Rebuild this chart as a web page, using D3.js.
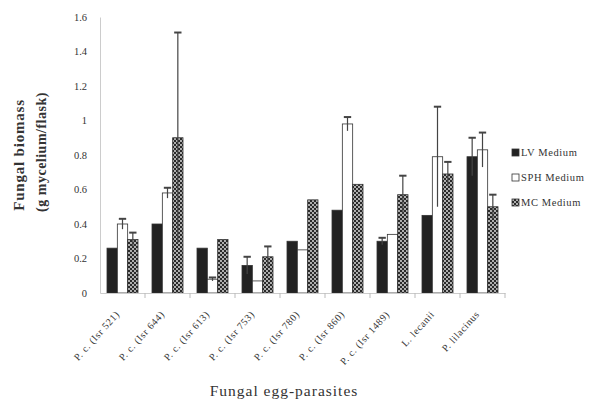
<!DOCTYPE html>
<html>
<head>
  <script src="https://cdn.jsdelivr.net/npm/d3@7"></script>
  <style>
    body { margin: 0; background: #fff; }
    text { font-family: "Liberation Serif", "DejaVu Serif", serif; fill: #333; }
  </style>
</head>
<body>
  <svg width="599" height="406" id="mainsvg"></svg>
  <script>
    const parasites = ['P. c. (Isr 521)', 'P. c. (Isr 644)', 'P. c. (Isr 613)', 'P. c. (Isr 753)',
      'P. c. (Isr 780)', 'P. c. (Isr 860)', 'P. c. (Isr 1489)', 'L. lecanii', 'P. lilacinus'];
    const media = ['LV Medium', 'SPH Medium', 'MC Medium'];
    const lvValues = [0.26, 0.40, 0.26, 0.16, 0.30, 0.48, 0.30, 0.45, 0.79];
    const sphValues = [0.40, 0.58, 0.08, 0.07, 0.25, 0.98, 0.34, 0.79, 0.83];
    const mcValues = [0.31, 0.90, 0.31, 0.21, 0.54, 0.63, 0.57, 0.69, 0.50];
    const lvErrors = [0, 0, 0, 0.05, 0, 0, 0.02, 0, 0.11];
    const sphErrors = [0.03, 0.03, 0.01, 0, 0, 0.04, 0, 0.29, 0.10];
    const mcErrors = [0.04, 0.61, 0, 0.06, 0, 0, 0.11, 0.07, 0.07];
    const yTicks = [0, 0.2, 0.4, 0.6, 0.8, 1, 1.2, 1.4, 1.6];

    const svg = d3.select('svg');
    const margin = {top: 17, left: 100, right: 94, bottom: 113};
    const width = +svg.attr('width');
    const height = +svg.attr('height');

    const x = d3.scaleBand().domain(parasites).range([margin.left, width - margin.right]);
    const xs = d3.scaleBand().domain(media).range([7, 38]);
    const y = d3.scaleLinear().domain([0, 1.6]).range([height - margin.bottom, margin.top]);

    // pattern for MC bars
    const defs = svg.append('defs');
    const pat = defs.append('pattern').attr('id', 'dots')
      .attr('width', 4).attr('height', 4).attr('patternUnits', 'userSpaceOnUse');
    pat.append('rect').attr('width', 4).attr('height', 4).attr('fill', '#2a2a2a');
    pat.append('circle').attr('cx', 1).attr('cy', 1).attr('r', 0.9).attr('fill', '#eee');
    pat.append('circle').attr('cx', 3).attr('cy', 3).attr('r', 0.9).attr('fill', '#eee');

    const fills = {'LV Medium': '#222', 'SPH Medium': '#fff', 'MC Medium': 'url(#dots)'};

    const rows = [];
    parasites.forEach((p, i) => {
      rows.push({p, m: media[0], v: lvValues[i], e: lvErrors[i]});
      rows.push({p, m: media[1], v: sphValues[i], e: sphErrors[i]});
      rows.push({p, m: media[2], v: mcValues[i], e: mcErrors[i]});
    });

    // y axis
    const yAxis = svg.append('g').attr('transform', `translate(${margin.left},0)`)
      .call(d3.axisLeft(y).tickValues(yTicks).tickSize(0).tickPadding(13)
        .tickFormat(d => d === 0 ? '0' : d3.format('.1~f')(d)));
    yAxis.select('.domain').attr('stroke', '#ccc');
    yAxis.selectAll('text').attr('font-size', 10.5).attr('fill', '#666')
      .style('font-family', '"Liberation Serif", serif');

    // bars
    svg.append('g').selectAll('rect').data(rows).join('rect')
      .attr('x', d => x(d.p) + xs(d.m))
      .attr('y', d => y(d.v))
      .attr('width', xs.bandwidth())
      .attr('height', d => y(0) - y(d.v))
      .attr('fill', d => fills[d.m])
      .attr('stroke', '#333').attr('stroke-width', 0.8);

    // error bars
    const eb = svg.append('g').selectAll('g').data(rows.filter(d => d.e > 0)).join('g')
      .attr('stroke', '#444').attr('stroke-width', 1.2);
    eb.append('line')
      .attr('x1', d => x(d.p) + xs(d.m) + xs.bandwidth() / 2)
      .attr('x2', d => x(d.p) + xs(d.m) + xs.bandwidth() / 2)
      .attr('y1', d => y(Math.max(0, d.v - d.e)))
      .attr('y2', d => y(d.v + d.e));
    eb.append('line')
      .attr('x1', d => x(d.p) + xs(d.m) + 1.5)
      .attr('x2', d => x(d.p) + xs(d.m) + xs.bandwidth() - 1.5)
      .attr('y1', d => y(d.v + d.e)).attr('y2', d => y(d.v + d.e))
      .attr('stroke-width', 2);

    // x axis
    const xAxis = svg.append('g').attr('transform', `translate(0,${y(0)})`)
      .call(d3.axisBottom(x).tickSize(0).tickPadding(8));
    xAxis.select('.domain').attr('stroke', '#ccc');
    xAxis.selectAll('text')
      .attr('font-size', 10).attr('fill', '#555')
      .attr('letter-spacing', 0.6)
      .attr('text-anchor', 'end')
      .attr('transform', 'translate(-11,14) rotate(-48)')
      .attr('dy', '0.35em')
      .style('font-family', '"Liberation Serif", serif');
    svg.append('g').selectAll('line').data(parasites).join('line')
      .attr('x1', d => x(d) + x.bandwidth()).attr('x2', d => x(d) + x.bandwidth())
      .attr('y1', y(0)).attr('y2', y(0) + 5)
      .attr('stroke', '#bbb');

    // axis titles
    svg.append('text')
      .attr('transform', `translate(24,155) rotate(-90)`)
      .attr('text-anchor', 'middle').attr('font-size', 15).attr('font-weight', 'bold')
      .attr('letter-spacing', 0.8)
      .text('Fungal biomass');
    svg.append('text')
      .attr('transform', `translate(46,152) rotate(-90)`)
      .attr('text-anchor', 'middle').attr('font-size', 14).attr('font-weight', 'bold')
      .attr('letter-spacing', 0.5)
      .text('(g mycelium/flask)');
    svg.append('text')
      .attr('x', 284).attr('y', 396)
      .attr('text-anchor', 'middle').attr('font-size', 15.5)
      .attr('letter-spacing', 1)
      .text('Fungal egg-parasites');

    // legend
    const lg = svg.append('g').selectAll('g').data(media).join('g')
      .attr('transform', (d, i) => `translate(512,${149 + i * 25})`);
    lg.append('rect').attr('width', 7).attr('height', 7)
      .attr('fill', d => fills[d]).attr('stroke', '#333').attr('stroke-width', 0.8);
    lg.append('text').attr('x', 9).attr('y', 7)
      .attr('font-size', 10.5).attr('fill', '#555').attr('letter-spacing', 0.6)
      .text(d => d);
  </script>
</body>
</html>
